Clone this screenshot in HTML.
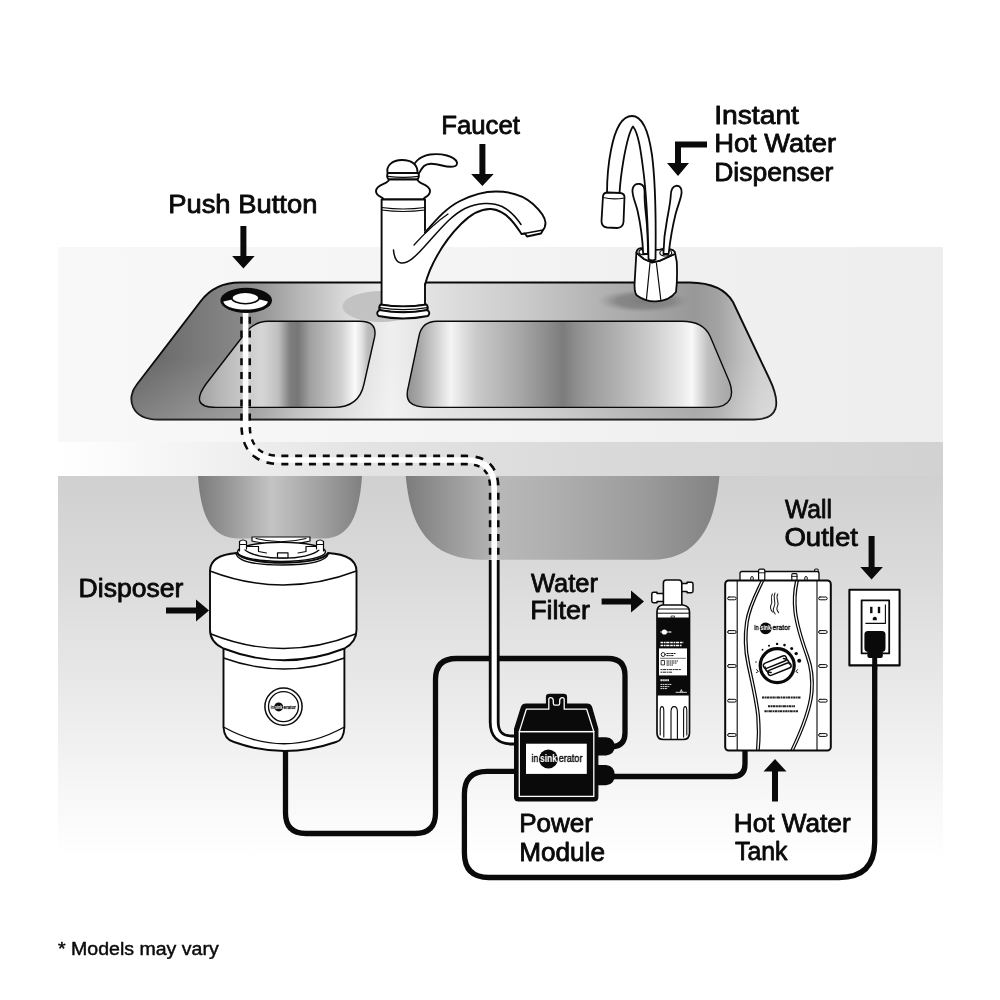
<!DOCTYPE html>
<html><head><meta charset="utf-8">
<style>
html,body{margin:0;padding:0;background:#fff;}
body{width:1000px;height:1000px;overflow:hidden;font-family:"Liberation Sans",sans-serif;}
svg{display:block;filter:grayscale(1)}
text{font-family:"Liberation Sans",sans-serif;fill:#0a0a0a;stroke:#0a0a0a;stroke-width:0.8px;stroke-linejoin:round;}
</style></head><body>
<svg width="1000" height="1000" viewBox="0 0 1000 1000">
<defs>

<linearGradient id="gTop" x1="58" x2="943" y1="0" y2="0" gradientUnits="userSpaceOnUse">
 <stop offset="0" stop-color="#f8f8f8"/><stop offset="0.4" stop-color="#f5f5f5"/><stop offset="0.7" stop-color="#f0f0f0"/><stop offset="1" stop-color="#eeeeee"/>
</linearGradient>
<linearGradient id="gFront" x1="58" x2="943" y1="0" y2="0" gradientUnits="userSpaceOnUse">
 <stop offset="0" stop-color="#ffffff"/><stop offset="0.06" stop-color="#fbfbfb"/><stop offset="0.2" stop-color="#efefef"/><stop offset="0.35" stop-color="#e3e3e3"/><stop offset="0.6" stop-color="#dadada"/><stop offset="1" stop-color="#d2d2d2"/>
</linearGradient>
<linearGradient id="gLow" x1="0" x2="0" y1="476" y2="858" gradientUnits="userSpaceOnUse">
 <stop offset="0" stop-color="#d0d0d0"/><stop offset="0.25" stop-color="#dadada"/><stop offset="0.55" stop-color="#e9e9e9"/><stop offset="0.85" stop-color="#f8f8f8"/><stop offset="1" stop-color="#ffffff"/>
</linearGradient>
<linearGradient id="gLowR" x1="58" x2="943" y1="0" y2="0" gradientUnits="userSpaceOnUse">
 <stop offset="0" stop-color="#ffffff" stop-opacity="0"/><stop offset="1" stop-color="#ffffff" stop-opacity="0.25"/>
</linearGradient>
<linearGradient id="gSink" x1="130" x2="782" y1="0" y2="0" gradientUnits="userSpaceOnUse"><stop offset="0.000" stop-color="#626262"/><stop offset="0.054" stop-color="#6e6e6e"/><stop offset="0.107" stop-color="#7a7a7a"/><stop offset="0.169" stop-color="#888888"/><stop offset="0.207" stop-color="#999999"/><stop offset="0.259" stop-color="#b6b6b6"/><stop offset="0.328" stop-color="#d8d8d8"/><stop offset="0.399" stop-color="#efefef"/><stop offset="0.460" stop-color="#e2e2e2"/><stop offset="0.601" stop-color="#cbcbcb"/><stop offset="0.748" stop-color="#adadad"/><stop offset="0.867" stop-color="#989898"/><stop offset="0.902" stop-color="#a2a2a2"/><stop offset="0.936" stop-color="#bcbcbc"/><stop offset="0.966" stop-color="#cecece"/><stop offset="1.000" stop-color="#d4d4d4"/></linearGradient>
<linearGradient id="gB1" x1="197" x2="376" y1="0" y2="0" gradientUnits="userSpaceOnUse"><stop offset="0.000" stop-color="#a0a0a0"/><stop offset="0.128" stop-color="#b6b6b6"/><stop offset="0.240" stop-color="#c6c6c6"/><stop offset="0.363" stop-color="#d6d6d6"/><stop offset="0.453" stop-color="#c0c0c0"/><stop offset="0.520" stop-color="#7e7e7e"/><stop offset="0.564" stop-color="#767676"/><stop offset="0.631" stop-color="#a0a0a0"/><stop offset="0.721" stop-color="#b8b8b8"/><stop offset="0.810" stop-color="#d2d2d2"/><stop offset="0.883" stop-color="#fafafa"/><stop offset="0.922" stop-color="#e0e0e0"/><stop offset="0.955" stop-color="#bcbcbc"/><stop offset="1.000" stop-color="#b0b0b0"/></linearGradient>
<linearGradient id="gB2" x1="406" x2="736" y1="0" y2="0" gradientUnits="userSpaceOnUse"><stop offset="0.000" stop-color="#909090"/><stop offset="0.042" stop-color="#a8a8a8"/><stop offset="0.091" stop-color="#d0d0d0"/><stop offset="0.136" stop-color="#f4f4f4"/><stop offset="0.179" stop-color="#dcdcdc"/><stop offset="0.218" stop-color="#c8c8c8"/><stop offset="0.342" stop-color="#a8a8a8"/><stop offset="0.436" stop-color="#8a8a8a"/><stop offset="0.476" stop-color="#7c7c7c"/><stop offset="0.512" stop-color="#8c8c8c"/><stop offset="0.558" stop-color="#9c9c9c"/><stop offset="0.652" stop-color="#b4b4b4"/><stop offset="0.755" stop-color="#d0d0d0"/><stop offset="0.830" stop-color="#e8e8e8"/><stop offset="0.867" stop-color="#f8f8f8"/><stop offset="0.891" stop-color="#dcdcdc"/><stop offset="0.915" stop-color="#c0c0c0"/><stop offset="0.952" stop-color="#b0b0b0"/><stop offset="1.000" stop-color="#a4a4a4"/></linearGradient>
<linearGradient id="gU1" x1="198" x2="362" y1="0" y2="0" gradientUnits="userSpaceOnUse">
 <stop offset="0" stop-color="#7c7c7c"/><stop offset="0.2" stop-color="#9a9a9a"/><stop offset="0.45" stop-color="#c4c4c4"/><stop offset="0.75" stop-color="#a0a0a0"/><stop offset="1" stop-color="#808080"/>
</linearGradient>
<linearGradient id="gU2" x1="406" x2="720" y1="0" y2="0" gradientUnits="userSpaceOnUse">
 <stop offset="0" stop-color="#7c7c7c"/><stop offset="0.1" stop-color="#919191"/><stop offset="0.3" stop-color="#b8b8b8"/><stop offset="0.45" stop-color="#b0b0b0"/><stop offset="0.75" stop-color="#9c9c9c"/><stop offset="1" stop-color="#828282"/>
</linearGradient>
<linearGradient id="gSinkV" x1="0" x2="0" y1="282" y2="420" gradientUnits="userSpaceOnUse"><stop offset="0" stop-color="#fff" stop-opacity="0"/><stop offset="0.55" stop-color="#fff" stop-opacity="0"/><stop offset="1" stop-color="#fff" stop-opacity="0.2"/></linearGradient>
<radialGradient id="gSh2" cx="0.5" cy="0.5" r="0.5"><stop offset="0" stop-color="#7c7c7c"/><stop offset="0.6" stop-color="#858585" stop-opacity="0.9"/><stop offset="1" stop-color="#999" stop-opacity="0"/></radialGradient>
<!--DEFS-->
</defs>

<rect x="58" y="247" width="885" height="196" fill="url(#gTop)"/>
<rect x="58" y="442" width="885" height="35" fill="url(#gFront)"/>
<rect x="58" y="476" width="885" height="384" fill="url(#gLow)"/>


<path id="sinkOuter" d="M240,282.5 L690,282.5 Q722,283 733,302 L769,378 Q789,419.5 754,419.5 L158,419.5 C131,419.5 126,398 136.5,385 L200.5,301.5 Q214.6,282.5 240,282.5 Z" fill="url(#gSink)" stroke="#0a0a0a" stroke-width="1.9"/>
<path d="M240,282.5 L690,282.5 Q722,283 733,302 L769,378 Q789,419.5 754,419.5 L158,419.5 C131,419.5 126,398 136.5,385 L200.5,301.5 Q214.6,282.5 240,282.5 Z" fill="url(#gSinkV)"/>
<ellipse cx="381" cy="306.5" rx="38.5" ry="15.5" fill="#c2c2c2"/>
<ellipse cx="645" cy="301" rx="48" ry="12" fill="url(#gSh2)"/>
<path d="M268,321.3 L360,321.3 Q377.6,321.3 374.6,337 L364,384 C361,398 352,407.4 334,407.4 L216,407.4 C196,407.4 196,398 206,384 L243,336 Q253,321.3 268,321.3 Z" fill="url(#gB1)" stroke="#0a0a0a" stroke-width="1.4"/>
<path d="M437,321.3 L682,321.3 Q703,321.3 710,336 L729.5,382 C734,394 732,407.4 712,407.4 L431,407.4 C408,407.4 404.5,400 408.5,386 L419,336 Q422,321.3 437,321.3 Z" fill="url(#gB2)" stroke="#0a0a0a" stroke-width="1.4"/>


<path d="M198,476 L362,476 C360,505 354,538.4 324,538.4 L238,538.4 C206,538.4 200,505 198,476 Z" fill="url(#gU1)"/>
<path d="M405.7,476 L719.5,476 C716,510 707,559.7 652,559.7 L482,559.7 C418,559.7 409,510 405.7,476 Z" fill="url(#gU2)"/>



<g fill="none" stroke-linecap="butt" stroke-linejoin="round">
 <!-- disposer cord to module top knob -->
 <path d="M285.5,750 L285.5,813 Q285.5,833.5 306,833.5 L415,833.5 Q435.5,833.5 435.5,813 L435.5,679.5 Q435.5,658.5 456.5,658.5 L608,658.5 Q625,658.5 625,675.5 L625,733 Q625,746 612,747" stroke="#0a0a0a" stroke-width="5.3"/>
 <!-- module bottom knob to tank -->
 <path d="M610,776.5 L733,776.5 Q745,776.5 745,764 L745,750" stroke="#0a0a0a" stroke-width="5.3"/>
 <!-- module left to outlet -->
 <path d="M518,771.4 L487,771.4 Q464.4,771.4 464.4,794 L464.4,853 Q464.4,877.5 489,877.5 L839,877.5 Q874.7,877.5 874.7,842 L874.7,655" stroke="#0a0a0a" stroke-width="5.3"/>
 <!-- dashed air tube -->
 <path d="M245.6,306 L245.6,425 Q245.6,460 281,460 L466,460 Q494.2,460 494.2,488 L494.2,561" stroke="#0a0a0a" stroke-width="10.8" stroke-dasharray="7 6.8" stroke-dashoffset="3"/>
 <path d="M245.6,306 L245.6,425 Q245.6,460 281,460 L466,460 Q494.2,460 494.2,488 L494.2,561" stroke="#fff" stroke-width="5.6"/>
 <!-- solid air tube -->
 <path d="M494.2,560 L494.2,722 Q494.2,740 512,740 L520,740" stroke="#0a0a0a" stroke-width="10.8"/>
 <path d="M494.2,559 L494.2,722 Q494.2,740 512,740 L520,740" stroke="#fff" stroke-width="5.2"/>
</g>

<g id="pushbtn">
 <ellipse cx="246.2" cy="300.4" rx="25.8" ry="12.6" fill="#0a0a0a"/>
 <path d="M223.4,301.5 A22.2,8 0 0 0 267.8,301.5 Q245.6,294.5 223.4,301.5 Z" fill="#fff"/>
 <ellipse cx="245.4" cy="298" rx="13.6" ry="5.8" fill="#fff" stroke="#0a0a0a" stroke-width="1.6"/>
</g>

<g id="faucet" fill="#fff" stroke="#0a0a0a" stroke-width="1.9" stroke-linejoin="round" stroke-linecap="round">
 <!-- handle -->
 <path d="M412,171 C413,164 418,156.5 430,154.5 C441,153 455,156 457,162.5 C458,167.5 450,167.5 442,165.5 C434,163.5 428,162.5 424,166 C421,169 420,172 418.5,174 Z"/>
 <!-- top knob -->
 <path d="M387.5,173 C386,166 392,160 402,160 C412,160 418,165 417.5,173 Z"/>
 <!-- neck rings -->
 <path d="M388,173 Q386,176 388.5,179.5 L417.5,179.5 Q420,176 418,173 Z"/>
 <path d="M388,176.3 Q403,178.3 418.5,176.3" fill="none" stroke-width="1.2"/>
 <!-- bulb -->
 <path d="M389,179.5 C389,184 376,184 376,191 C376,197 383,196.5 383.5,199.5 L423.5,199.5 C424,196.5 430,197 430,191 C430,184 417.5,184 417.5,179.5 Z"/>
 <!-- column -->
 <path d="M381.6,199.5 L381.6,305 Q403,308.6 425,305 L425,199.5 Z"/>
 <path d="M381.6,207.5 Q403,210.5 425,207.5" fill="none" stroke-width="1.2"/>
 <path d="M381.6,210 Q403,213 425,210" fill="none" stroke-width="1.2"/>
 <!-- base rings -->
 <path d="M380.4,304.5 Q378.2,307.5 380,310.4 Q403,314.4 427,310.4 Q428.8,307.5 426.6,304.5 Q403,308.2 380.4,304.5 Z"/>
 <path d="M379.4,310 Q375.4,313 378.6,316 Q403,321 427.8,316 Q431,313 427.4,310 Q403,314.6 379.4,310 Z"/>
 <path d="M379.6,307.6 Q403,311.6 427.4,307.6" fill="none" stroke-width="1.2"/>
 <!-- spout -->
 <path d="M423,233 C436,220 446,208 460,201 C472,195 484,191.5 496,191.5 C512,191.5 524,196 533,204 C540,210.5 545,217 545.5,222.5 C545.5,226 544.5,228.5 543,230 L541,233.5 L527,236.5 L525,233.5 L521.5,234 C518.5,229.5 516,225.5 512,221 C506,214 499,209.5 491,209 C480,208.5 470,215 461,224 C449,236 437,254 430,270 C427.5,276 426,281 423,286 Z" stroke="none"/>
 <path d="M425,232.5 C436,220 446,208 460,201 C472,195 484,191.5 496,191.5 C512,191.5 524,196 533,204 C540,210.5 545,217 545.5,222.5 C545.5,226 544.5,228.5 543,230 L541,233.5 L527,236.5 L525,233.5 L521.5,234 C518.5,229.5 516,225.5 512,221 C506,214 499,209.5 491,209 C480,208.5 470,215 461,224 C449,236 437,254 430,270 C427.5,276 426,281 425,285" fill="none"/>
 <path d="M521.5,234 L543,230" fill="none" stroke-width="1.3"/>
 <path d="M393.5,250 C394,257 396,262 401,263 C408,264 416,256 425,246 C438,232 450,216 465,208.5 C478,202.5 492,202 502,206.5 C510,210.5 516,217 521,224.5" fill="none" stroke-width="1.5"/>
 <path d="M414,245 C424,234 436,222 448,214" fill="none" stroke-width="1.3"/>
</g>


<g id="dispenser" fill="#fff" stroke="#0a0a0a" stroke-width="1.8" stroke-linejoin="round" stroke-linecap="round">
 <!-- base body -->
 <path d="M636.4,252.6 L634.6,283 Q634.2,293 637,295.5 Q646,302 656,301.4 Q669,301 676,292 Q677.6,280 676.8,262 L675.2,253.8 L660,260.6 L652,262.6 L644,259 Z"/>
 <path d="M636.4,252.6 Q637,248.6 641,248.2 L648,250.2 L660,249.6 Q667,247.6 673,250.2 Q675.4,251.6 675.2,253.8 L660,260.6 Q652,263.4 644,259 Z"/>
 <ellipse cx="643.4" cy="252" rx="4.4" ry="2.7" stroke-width="1.2"/>
 <ellipse cx="665.8" cy="253" rx="6" ry="3" stroke-width="1.2"/>
 <path d="M650,263 L646.4,299.6 M656.4,263 L660.8,299.8" fill="none" stroke-width="1.2"/>
 <!-- left lever -->
 <path d="M643.2,254 C642.6,240 640.5,224 637.6,211 C635.6,202 631.4,195 632.6,189 C633.6,184.6 637,183.6 640,184 C643.6,184.6 644.8,188 644.6,193 C644.2,204 646.2,214 647,226 C647.6,236 648,246 648,254 Z"/>
 <!-- right lever -->
 <path d="M663.4,254 C663.6,244 664.6,232 667,220 C668.6,211 670.4,203 670.8,195 C671,190 672.6,186.4 676,185.8 C679.6,185.4 682,188 681.6,192.6 C681,199 677.6,206 675.6,214 C672.6,226 670,242 668.6,254 Z"/>
 <!-- gooseneck -->
 <path d="M648.5,259 C648,230 647,200 643.5,172 C641,152 638.5,133 633,126.5 C629.5,131 626,146 623.5,160 C621.5,172 620,184 619.5,193.5 L607,193.5 C607,180 608,165 611,150 C614.5,132 621,116 632,116 C643,116 649,134 652,155 C655.5,182 656,225 655.5,259.5 Q652,261.5 648.5,259 Z"/>
 <!-- nozzle -->
 <path d="M603,196 Q603.5,192.5 608,192.5 L620,193 Q624.5,193.5 624.5,197 L623.5,222 Q623,227.5 617,228 L607,227.5 Q601.5,227 601.5,221 Z"/>
 <path d="M603,197.5 Q613,200 624.3,198" fill="none" stroke-width="1.1"/>
</g>


<g id="disposer" fill="#fff" stroke="#0a0a0a" stroke-width="1.9" stroke-linejoin="round" stroke-linecap="round">
 <!-- mount -->
 <path d="M252,537 L252,541 Q281,548.5 310,541 L310,537 Z" stroke-width="1.2"/>
 <path d="M256,538.5 Q281,545 306,538.5" fill="none" stroke-width="1.1"/>
 <ellipse cx="281.5" cy="551.8" rx="44" ry="9.6" stroke-width="1.4"/>
 <path d="M244,549 C250,555.5 268,558.2 283,558.2 C298,558.2 314,555.5 320,549" fill="none" stroke-width="1.3"/>
 <path d="M245,546.5 L258.5,546.5 L258.5,551.5 L266.5,553 M319,546.5 L306,546.5 L306,551.5 L298,553" fill="none" stroke-width="1.2"/>
 <path d="M277.5,552.8 L277.5,557.8 L288,557.8 L288,552.8 Z" stroke-width="1.2"/>
 <path d="M239.5,551 L239.5,541.5 Q243,538.5 246.5,541.5 L246.5,549" stroke-width="1.2"/>
 <path d="M316.5,549 L316.5,541.5 Q320,538.5 323.5,541.5 L323.5,551" stroke-width="1.2"/>
 <path d="M239.5,544.5 L246.5,544.5 M316.5,544.5 L323.5,544.5" stroke-width="1" fill="none"/>
 <!-- lower body -->
 <path d="M223.5,648 L223.5,727 C224,738 230,741 234,742 Q284,760 336,742 C340,741 344,738 344.4,727 L344.4,648 Z"/>
 <path d="M223.5,727 Q284,760.5 344.4,727" fill="none" stroke-width="1.4"/>
 <path d="M223.5,658 Q284,680 344.4,658" fill="none" stroke-width="1.4"/>
 <!-- upper body -->
 <path d="M237,553 C222,554 210,559 210,571 L210,630 C210,640 216,645 223.5,648.5 Q284,672 344.4,648.5 C351,645 356.5,640 356.5,630 L356.5,571 C356.5,559 344,554 328,553 C322,566 244,566 237,553 Z"/>
 <path d="M210,571 Q283,599 356.5,571" fill="none" stroke-width="1.4"/>
 <path d="M211,634 Q283.5,663 355.5,634" fill="none" stroke-width="1.4"/>
 <path d="M236,553.5 C238,562 258,565 282,565 C306,565 326,562 328.5,553.5" fill="none" stroke-width="1.3"/>
 <!-- logo -->
 <circle cx="283.5" cy="706.6" r="18.6" stroke-width="1.5"/>
 <circle cx="283.5" cy="706.6" r="15" stroke-width="1.3"/>
 <circle cx="278.7" cy="706.9" r="4.5" fill="#0a0a0a" stroke="none"/>
 <text x="270.8" y="708.5" font-size="5" textLength="3.2" lengthAdjust="spacingAndGlyphs" style="stroke:#0a0a0a;stroke-width:0.2px;fill:#0a0a0a">in</text>
 <text x="274.9" y="708.5" font-size="4.8" font-weight="bold" textLength="7.6" lengthAdjust="spacingAndGlyphs" style="stroke:none;fill:#fff">sink</text>
 <text x="283.6" y="708.5" font-size="5" textLength="12.2" lengthAdjust="spacingAndGlyphs" style="stroke:#0a0a0a;stroke-width:0.25px;fill:#0a0a0a">erator</text>
</g>


<g id="module">
 <!-- knobs -->
 <path d="M596,737.2 L606,737.2 Q614.6,738 614.6,746.3 Q614.6,754.6 606,755.4 L596,755.4 Z" fill="#0a0a0a"/>
 <path d="M596,765 L606,765 Q614.8,766 614.8,775.2 Q614.8,784.4 606,785.3 L596,785.3 Z" fill="#0a0a0a"/>
 <!-- body black -->
 <path d="M546.5,704 L546.5,697 Q546.5,694.3 549.5,694.3 L563.5,694.3 Q566.5,694.3 566.5,697 L566.5,704 L587,704 Q590.5,704 591.5,707 L597.8,729 L597.8,797 Q597.8,801 594,801 L518.5,801 Q514.6,801 514.6,797 L514.6,729 L521.5,707 Q522.5,704 526,704 Z" fill="#0a0a0a" stroke="#0a0a0a" stroke-width="1.2" stroke-linejoin="round"/>
 <!-- white inner lines -->
 <path d="M519.3,731.6 L526.3,709.2 L548.8,709.2 L548.8,699.6 Q548.8,697.6 550.5,697.6 Q553.3,697.6 553.3,700.5 L553.3,703.3 Q553.3,705.2 555,705.2 L558,705.2 Q559.7,705.2 559.7,703.3 L559.7,700.5 Q559.7,697.6 562.5,697.6 Q564.2,697.6 564.2,699.6 L564.2,709.2 L586.7,709.2 L593.8,731.6 Z" fill="none" stroke="#fff" stroke-width="1.3" stroke-linejoin="round"/>
 <rect x="519.3" y="731.6" width="74.5" height="64.8" fill="none" stroke="#fff" stroke-width="1.3"/>
 <!-- label -->
 <rect x="526" y="743.7" width="60.8" height="30.2" fill="#fff"/>
 <circle cx="548.4" cy="759" r="9.4" fill="#0a0a0a"/>
 <text x="531.6" y="762" font-size="10.4" textLength="6.6" lengthAdjust="spacingAndGlyphs" style="stroke:#0a0a0a;stroke-width:0.35px;fill:#0a0a0a">in</text>
 <text x="540" y="762.2" font-size="10.6" font-weight="bold" textLength="17" lengthAdjust="spacingAndGlyphs" style="stroke:none;fill:#fff">sink</text>
 <text x="558.8" y="762" font-size="10.4" textLength="23.6" lengthAdjust="spacingAndGlyphs" style="stroke:#0a0a0a;stroke-width:0.35px;fill:#0a0a0a">erator</text>
</g>


<g id="filter" fill="#fff" stroke="#0a0a0a" stroke-width="1.4" stroke-linejoin="round" stroke-linecap="round">
 <!-- left connector -->
 <path d="M664,593.5 L657,593.5 L657,592.3 L653.5,592.3 Q651.8,592.3 651.8,594 L651.8,601 Q651.8,602.7 653.5,602.7 L657,602.7 L657,601.5 L664,601.5 Z" stroke-width="1.5"/>
 <!-- right connector -->
 <path d="M681,583.5 L687,583.5 L687,582.3 L691.3,582.3 Q693,582.3 693,584 L693,591 Q693,592.7 691.3,592.7 L687,592.7 L687,591.5 L681,591.5 Z" stroke-width="1.5"/>
 <!-- head -->
 <path d="M663.4,606 L663.4,583 Q663.4,580 666.4,580 L678.8,580 Q681.8,580 681.8,583 L681.8,606 Z" stroke-width="1.6"/>
 <!-- body -->
 <path d="M662,605 L683,605 Q689.5,606 689.5,612 L689.5,733 Q689.5,739.5 683,739.5 L663.5,739.5 Q657,739.5 657,733 L657,612 Q657,606 662,605 Z" stroke-width="1.7"/>
 <path d="M657.5,609 L689,609 M657.5,613.2 L689,613.2" fill="none" stroke-width="1"/>
 <!-- black label -->
 <rect x="657" y="617.5" width="32.5" height="78" fill="#0a0a0a" stroke="none"/>
 <rect x="657" y="617.5" width="32.5" height="2.4" fill="#fff" stroke="none" opacity="0.0"/>
 <rect x="671.5" y="616" width="3" height="1.6" fill="#fff" stroke-width="0.7"/>
 <!-- logo on label -->
 <circle cx="664.4" cy="632" r="2.6" fill="#fff" stroke="none"/>
 <path d="M660.6,632 L662,632 M667.3,632 L671.8,632" stroke="#fff" stroke-width="1.5" fill="none" stroke-dasharray="1 0.5" stroke-linecap="butt"/>
 <path d="M660.5,642.4 L683.5,642.4 M660.5,645.6 L681.5,645.6" stroke="#fff" stroke-width="1.5" fill="none" stroke-dasharray="2.6 0.7 1.8 0.6 3.2 0.8" stroke-linecap="butt"/>
 <!-- white sub label -->
 <rect x="659" y="648.4" width="28" height="27" fill="#fff" stroke="none"/>
 <circle cx="663.2" cy="654.5" r="2" fill="#fff" stroke-width="0.9"/>
 <path d="M666.5,653.5 L676,653.5 M666.5,655.6 L674,655.6" stroke="#0a0a0a" stroke-width="1" fill="none" stroke-dasharray="2.2 0.6 1.4 0.5" stroke-linecap="butt"/>
 <path d="M660.5,658.3 L685.5,658.3" stroke="#0a0a0a" stroke-width="0.6" fill="none"/>
 <rect x="661.5" y="660.5" width="3" height="4.4" fill="#fff" stroke-width="0.8"/>
 <path d="M666.5,661 L678,661 M666.5,663 L677,663 M666.5,665 L673,665" stroke="#0a0a0a" stroke-width="0.9" fill="none" stroke-dasharray="2.4 0.6 1.5 0.5" stroke-linecap="butt"/>
 <path d="M660.5,669.6 L681,669.6 M660.5,672.2 L672.5,672.2" stroke="#0a0a0a" stroke-width="0.9" fill="none" stroke-dasharray="2 0.5 3 0.6" stroke-linecap="butt"/>
 <!-- lower label text -->
 <path d="M660.5,680.3 L669,680.3" stroke="#fff" stroke-width="1.9" fill="none" stroke-dasharray="1.4 0.5" stroke-linecap="butt"/>
 <path d="M660.5,684.4 L671.5,684.4 M660.5,686.6 L669.5,686.6 M660.5,688.6 L667.5,688.6" stroke="#fff" stroke-width="0.9" fill="none" stroke-dasharray="2 0.5 1.4 0.5" stroke-linecap="butt"/>
 <path d="M676,692.3 L686.5,692.3 M680.5,692 L681.3,689.6 L682.3,692" stroke="#fff" stroke-width="0.8" fill="none"/>
 <!-- ribs -->
 <path d="M660.2,735 L660.2,711 Q660.2,706.6 662,706.6 Q663.8,706.6 663.8,711 L663.8,737" fill="none" stroke-width="1.1"/>
 <path d="M671,739 L671,712 Q671,706.6 674.2,706.6 Q677.4,706.6 677.4,712 L677.4,739" fill="none" stroke-width="1.1"/>
 <path d="M683.6,737 L683.6,711 Q683.6,706.6 685.2,706.6 Q686.8,706.6 686.8,711 L686.8,735" fill="none" stroke-width="1.1"/>
</g>


<g id="tank" fill="#fff" stroke="#0a0a0a" stroke-width="1.4" stroke-linejoin="round" stroke-linecap="round">
 <!-- bracket -->
 <rect x="814.6" y="569" width="3.6" height="13" rx="1.2" stroke-width="1.1"/>
 <path d="M740,581 L740,573.5 Q740,571.5 742,571.5 L817,571.5 Q819,571.5 819,573.5 L819,581 Z" stroke-width="1.3"/>
 <path d="M750.8,580 L750.8,577.2 Q752,575.6 753.2,577.2 L753.2,580 M804.8,580 L804.8,577.2 Q806,575.6 807.2,577.2 L807.2,580" fill="none" stroke-width="1"/>
 <rect x="758.6" y="569.2" width="6.2" height="11.5" rx="1.4" stroke-width="1.2"/>
 <path d="M758.6,572.8 L764.8,572.8" stroke-width="0.9"/>
 <rect x="791.8" y="573.6" width="5.2" height="7" rx="1" stroke-width="1.1"/>
 <path d="M791.8,576.4 L797,576.4" stroke-width="0.9"/>
 <!-- body -->
 <rect x="725.2" y="580.4" width="105.6" height="170.2" rx="3.5" stroke-width="2"/>
 <path d="M737.2,581 L737.2,750 M817,581 L817,750" fill="none" stroke-width="1.1"/>
 <rect x="727.6" y="597.0" width="8.6" height="2.8" rx="1.4" stroke-width="1"/><rect x="818.6" y="597.0" width="8.6" height="2.8" rx="1.4" stroke-width="1"/><rect x="727.6" y="630.6" width="8.6" height="2.8" rx="1.4" stroke-width="1"/><rect x="818.6" y="630.6" width="8.6" height="2.8" rx="1.4" stroke-width="1"/><rect x="727.6" y="664.6" width="8.6" height="2.8" rx="1.4" stroke-width="1"/><rect x="818.6" y="664.6" width="8.6" height="2.8" rx="1.4" stroke-width="1"/><rect x="727.6" y="699.3" width="8.6" height="2.8" rx="1.4" stroke-width="1"/><rect x="818.6" y="699.3" width="8.6" height="2.8" rx="1.4" stroke-width="1"/><rect x="727.6" y="733.6" width="8.6" height="2.8" rx="1.4" stroke-width="1"/><rect x="818.6" y="733.6" width="8.6" height="2.8" rx="1.4" stroke-width="1"/>
 <!-- left wave (double) -->
 <path d="M761,581 C756,592 748,606 745.6,622 C743.4,637 744,650 747,664 C750,679 755,698 756.8,716 C757.8,728 757.6,740 756.6,750" fill="none" stroke-width="1.25"/>
 <path d="M763.6,581 C758.6,592 750.6,606 748.2,622 C746,637 746.6,650 749.6,664 C752.6,679 757.6,698 759.4,716 C760.4,728 760.2,740 759.2,750" fill="none" stroke-width="1.25"/>
 <!-- right wave (double) -->
 <path d="M795.6,581 C793.6,590 792.6,600 794,612 C796,628 801,642 806,656 C810,667 811.4,680 810.4,692 C809,708 802,727 791,750" fill="none" stroke-width="1.25"/>
 <path d="M798.2,581 C796.2,590 795.2,600 796.6,612 C798.6,628 803.6,642 808.6,656 C812.6,667 814,680 813,692 C811.6,708 804.6,727 793.6,750" fill="none" stroke-width="1.25"/>
 <!-- flame -->
 <path d="M772.4,594 C769.6,598 773.4,601 771,605 C769.8,607.4 770.6,609.6 772.4,612 M775,593 C772,598 777,602 774,607 C772.6,609.6 773.4,612 775.2,614 M777.8,594 C775,598 780,602 777.4,606.4 C776.2,608.8 777,610.6 778.6,612.6" fill="none" stroke-width="1.1" stroke="#222"/>
 <!-- logo -->
 <circle cx="765.7" cy="628.3" r="5.9" fill="#0a0a0a" stroke="none"/>
 <text x="754.2" y="630.4" font-size="6.6" textLength="4.4" lengthAdjust="spacingAndGlyphs" style="stroke:#0a0a0a;stroke-width:0.3px;fill:#0a0a0a">in</text>
 <text x="760.6" y="630.4" font-size="6.4" font-weight="bold" textLength="10.2" lengthAdjust="spacingAndGlyphs" style="stroke:none;fill:#fff">sink</text>
 <text x="772.6" y="630.4" font-size="6.6" textLength="17.6" lengthAdjust="spacingAndGlyphs" style="stroke:#0a0a0a;stroke-width:0.3px;fill:#0a0a0a">erator</text>
 <!-- dial -->
 <circle cx="756.0" cy="662.0" r="0.7" fill="#0a0a0a" stroke="none"/><circle cx="762.5" cy="649.7" r="0.9" fill="#0a0a0a" stroke="none"/><circle cx="769.0" cy="645.8" r="1.0" fill="#0a0a0a" stroke="none"/><circle cx="777.1" cy="643.9" r="1.2" fill="#0a0a0a" stroke="none"/><circle cx="784.5" cy="645.1" r="1.3" fill="#0a0a0a" stroke="none"/><circle cx="791.7" cy="648.4" r="1.5" fill="#0a0a0a" stroke="none"/><circle cx="796.2" cy="653.6" r="1.7" fill="#0a0a0a" stroke="none"/><circle cx="799.2" cy="660.8" r="2.0" fill="#0a0a0a" stroke="none"/>
 <path d="M756.6,669.5 L758.4,671.5 L756.4,672.6 M797.6,669.5 L795.8,671.5 L797.8,672.6" fill="none" stroke-width="0.9"/>
 <circle cx="777.2" cy="665.6" r="17" stroke-width="3.2"/>
 <g transform="rotate(-22 777.2 665.6)" fill="#fff" stroke-width="1.5">
  <rect x="764.2" y="658.8" width="24.5" height="5.4" rx="2.7"/>
  <rect x="765.8" y="667" width="24.5" height="5.4" rx="2.7"/>
  <path d="M765.4,662.4 Q764,667.6 769,669.8 M789.2,668.8 Q790.4,663.8 785.6,661.4" fill="none"/>
 </g>
 <!-- text -->
 <path d="M762,697.6 L800.5,697.6" stroke="#222" stroke-width="2" fill="none" stroke-dasharray="2.4 0.5 1.2 0.4 3 0.6 1.8 0.5" stroke-linecap="butt"/>
 <path d="M768,706.3 L795,706.3" stroke="#222" stroke-width="2" fill="none" stroke-dasharray="2.4 0.5 1.2 0.4 3 0.6 1.8 0.5" stroke-linecap="butt"/>
 <path d="M764.4,711.2 L798.2,711.2" stroke="#222" stroke-width="2" fill="none" stroke-dasharray="2.4 0.5 1.2 0.4 3 0.6 1.8 0.5" stroke-linecap="butt"/>
</g>


<g id="outlet" stroke-linejoin="round">
 <rect x="849.4" y="589.8" width="50.2" height="75.6" fill="#fff" stroke="#0a0a0a" stroke-width="2.1"/>
 <rect x="861.6" y="600.4" width="27.6" height="53" fill="#fff" stroke="#0a0a0a" stroke-width="1.8"/>
 <path d="M865.4,623.4 L885.4,623.4 L885.4,604.5" fill="none" stroke="#0a0a0a" stroke-width="1.1"/>
 <rect x="870.1" y="606.8" width="2.4" height="6.4" fill="#0a0a0a"/>
 <rect x="877.8" y="606.8" width="2.4" height="6.4" fill="#0a0a0a"/>
 <path d="M872.8,620.2 L872.8,618 Q874.8,615.6 876.8,618 L876.8,620.2 Z" fill="#0a0a0a"/>
 <path d="M864.4,648 L864.4,634.5 Q864.4,631 867.9,631 L882,631 Q885.5,631 885.5,634.5 L885.5,648 Q885.5,651.4 882.8,651.8 L882.8,656 Q882.8,658 880.8,658 L869.4,658 Q867.4,658 867.4,656 L867.4,651.8 Q864.4,651.4 864.4,648 Z" fill="#0a0a0a"/>
 <rect x="872.2" y="656" width="5" height="14" fill="#0a0a0a"/>
</g>

<g id="arrows" fill="#0a0a0a" stroke="none">
<path d="M240.4,226 L246.4,226 L246.4,256 L254.70000000000002,256 L243.4,268.6 L232.1,256 L240.4,256 Z"/>
<path d="M479.4,144 L485.4,144 L485.4,174 L493.7,174 L482.4,186 L471.09999999999997,174 L479.4,174 Z"/>
<path d="M868.6,536 L874.6,536 L874.6,567 L882.9,567 L871.6,579.6 L860.3000000000001,567 L868.6,567 Z"/>
<path d="M772.0,801.6 L778.0,801.6 L778.0,771.6 L786.5,771.6 L775,759 L763.5,771.6 L772.0,771.6 Z"/>
<path d="M166,607.4 L166,613.4 L196,613.4 L196,621.4 L209,610.4 L196,599.4 L196,607.4 Z"/>
<path d="M601.6,598.6 L601.6,604.6 L631,604.6 L631,612.6 L644,601.6 L631,590.6 L631,598.6 Z"/>
<path d="M707,141.4 L675,141.4 L675,163 L667,163 L678,176 L689,163 L681,163 L681,147.4 L707,147.4 Z"/>
</g>
<g id="labels" font-size="24.9">
 <text id="L0" x="168.2" y="213.0" textLength="149.2" lengthAdjust="spacingAndGlyphs">Push Button</text>
 <text id="L1" x="441.2" y="133.6" textLength="78.8" lengthAdjust="spacingAndGlyphs">Faucet</text>
 <text id="L2" x="714.2" y="123.6" textLength="84.8" lengthAdjust="spacingAndGlyphs">Instant</text>
 <text id="L3" x="714.2" y="151.6" textLength="121.8" lengthAdjust="spacingAndGlyphs">Hot Water</text>
 <text id="L4" x="714.2" y="180.6" textLength="119.2" lengthAdjust="spacingAndGlyphs">Dispenser</text>
 <text id="L5" x="78.6" y="597.0" textLength="104.8" lengthAdjust="spacingAndGlyphs">Disposer</text>
 <text id="L6" x="531.0" y="591.6" textLength="67.0" lengthAdjust="spacingAndGlyphs">Water</text>
 <text id="L7" x="530.2" y="618.6" textLength="59.8" lengthAdjust="spacingAndGlyphs">Filter</text>
 <text id="L8" x="785.0" y="517.6" textLength="47.0" lengthAdjust="spacingAndGlyphs">Wall</text>
 <text id="L9" x="784.4" y="546.2" textLength="73.6" lengthAdjust="spacingAndGlyphs">Outlet</text>
 <text id="L10" x="519.2" y="831.6" textLength="73.8" lengthAdjust="spacingAndGlyphs">Power</text>
 <text id="L11" x="519.2" y="860.6" textLength="85.8" lengthAdjust="spacingAndGlyphs">Module</text>
 <text id="L12" x="733.8" y="831.6" textLength="116.8" lengthAdjust="spacingAndGlyphs">Hot Water</text>
 <text id="L13" x="735.0" y="859.6" textLength="52.4" lengthAdjust="spacingAndGlyphs">Tank</text>
 <text id="L14" x="58" y="954.5" font-size="18" textLength="160.7" lengthAdjust="spacingAndGlyphs" style="stroke-width:0.45px">* Models may vary</text>
</g>

</svg>
</body></html>
